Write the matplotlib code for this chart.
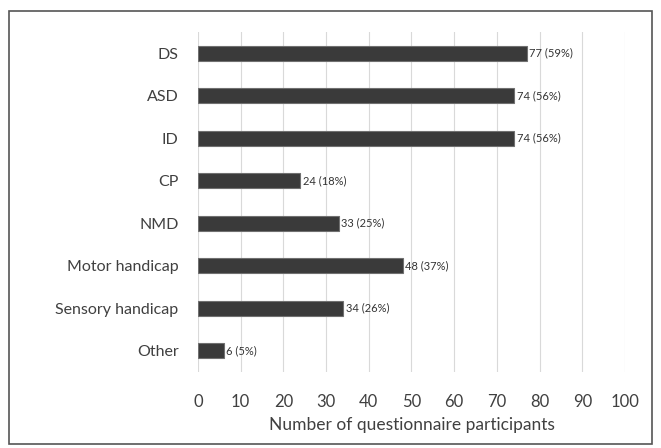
import matplotlib.pyplot as plt
from matplotlib.patches import Rectangle

categories = ['DS', 'ASD', 'ID', 'CP', 'NMD', 'Motor handicap', 'Sensory handicap', 'Other']
counts = [77, 74, 74, 24, 33, 48, 34, 6]
percents = [59, 56, 56, 18, 25, 37, 26, 5]

plt.rcParams['font.family'] = ['Lato', 'DejaVu Sans']

fig = plt.figure(figsize=(6.61, 4.48), dpi=100)
ax = fig.add_axes([0.2995, 0.1696, 0.646, 0.759])

y = list(range(len(categories)))
ax.barh(y, counts, height=0.35, color='#3a3a3a', edgecolor='#707070', linewidth=0.8, zorder=3)
for yi, c, p in zip(y, counts, percents):
    ax.text(c + 0.6, yi, f'{c} ({p}%)', va='center', ha='left', fontsize=8, color='#333333')

ax.set_xlim(0, 100)
ax.set_ylim(len(categories) - 0.5, -0.5)
ax.set_xticks(range(0, 101, 10))
ax.set_yticks(y)
ax.set_yticklabels(categories)
ax.grid(axis='x', color='#d9d9d9', linewidth=0.8, zorder=0)
for s in ax.spines.values():
    s.set_visible(False)
ax.tick_params(axis='both', length=0, colors='#404040')
ax.tick_params(axis='x', pad=16, labelsize=12)
ax.tick_params(axis='y', pad=14, labelsize=11.5)
ax.set_xlabel('Number of questionnaire participants', fontsize=12.5, color='#404040', labelpad=5)

fig.patches.append(Rectangle((9 / 661, 1 - 444 / 448), 643 / 661, 433 / 448,
                             transform=fig.transFigure, fill=False,
                             edgecolor='#555555', linewidth=1.2))

fig.savefig('out.png', dpi=100)
